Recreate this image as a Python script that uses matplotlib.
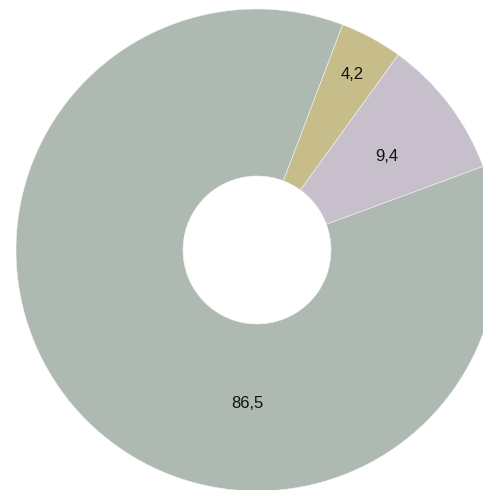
import numpy as np
import matplotlib; matplotlib.use("Agg")
import matplotlib.pyplot as plt

# data, clockwise from the top-right boundary
shares = [4.2, 9.4, 86.5]
labels = ["4,2", "9,4", "86,5"]
colors = ["#c6bd8a", "#c8bfcc", "#adb9b1"]

# label placement (radius, angle in deg) as in the reference
lab_r = [0.83, 0.665, 0.64]
lab_ang = [61.6, 35.9, -93.7]

plt.rcParams["font.family"] = ["Liberation Sans", "DejaVu Sans"]
W, H = 483, 490
fig = plt.figure(figsize=(W/100, H/100), dpi=100)
cx, cy, R = 257, 490-250, 241
ax = fig.add_axes([(cx-R)/W, (cy-R)/H, 2*R/W, 2*R/H])
ax.pie(shares, colors=colors, startangle=69.2, counterclock=False, radius=1,
       wedgeprops=dict(width=1-74/241, edgecolor="#f4f4f4", linewidth=0.4))
for t, r, a in zip(labels, lab_r, lab_ang):
    ax.text(r*np.cos(np.radians(a)), r*np.sin(np.radians(a)), t, ha="center", va="center", fontsize=12, color="#111111")
ax.set_xlim(-1, 1); ax.set_ylim(-1, 1); ax.set_aspect("equal"); ax.axis("off")
fig.savefig("out.png", dpi=100)
